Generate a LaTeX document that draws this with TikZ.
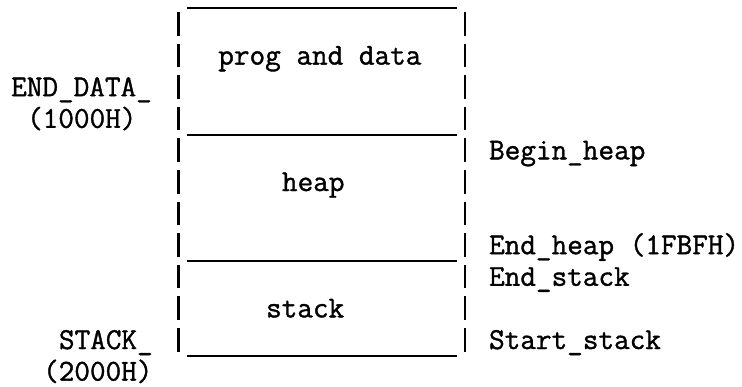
\documentclass[tikz,border=0pt]{standalone}
\usepackage{fontspec}
\newfontfamily\mapfont{Latin Modern Mono}[FakeBold=1.2]

\begin{document}
\begin{tikzpicture}[
        x=1pt, y=-1pt,
        lbl/.style={anchor=base west, inner sep=0pt, font=\fontsize{30.34}{36}\selectfont\mapfont},
        wall/.style={line width=2.4pt, dash pattern=on 23.5pt off 8.1pt},
        divider/.style={line width=2pt}
    ]
        \useasboundingbox (0,0) rectangle (742,386);

        % Box walls
        \coordinate (wlt) at (178.3, 12);
        \coordinate (wlb) at (178.3, 353.6);
        \coordinate (wrt) at (465, 12);
        \coordinate (wrb) at (465, 353.6);

        \draw[wall] (wlt) -- (wlb);
        \draw[wall] (wrt) -- (wrb);

        % Dividers
        \coordinate (topl) at (187, 7.5);
        \coordinate (topr) at (457, 7.5);
        \coordinate (datal) at (187, 135);
        \coordinate (datar) at (457, 135);
        \coordinate (heapl) at (187, 261);
        \coordinate (heapr) at (457, 261);
        \coordinate (botl) at (187, 356);
        \coordinate (botr) at (457, 356);

        \draw[divider] (topl) -- (topr);
        \draw[divider] (datal) -- (datar);
        \draw[divider] (heapl) -- (heapr);
        \draw[divider] (botl) -- (botr);

        % Regions
        \node[lbl] (prog) at (218.1, 64.6) {prog and data};

        \node[lbl] (heap) at (281.8, 191.0) {heap};

        \node[lbl] (stack) at (265.9, 317.4) {stack};

        % Left side addresses
        \node[lbl] (enddata) at (11.0, 96.2) {END\_DATA\_};
        \node[lbl] (enddataaddr) at (26.9, 127.8) {(1000H)};

        \node[lbl] (stacktop) at (58.8, 349.0) {STACK\_};
        \node[lbl] (stackaddr) at (42.9, 380.6) {(2000H)};

        % Right side pointers
        \node[lbl] (beginheap) at (488.9, 159.4) {Begin\_heap};
        \node[lbl] (endheap) at (488.9, 254.2) {End\_heap (1FBFH)};
        \node[lbl] (endstack) at (488.9, 285.8) {End\_stack};
        \node[lbl] (startstack) at (488.9, 349.0) {Start\_stack};
    \end{tikzpicture}
\end{document}
